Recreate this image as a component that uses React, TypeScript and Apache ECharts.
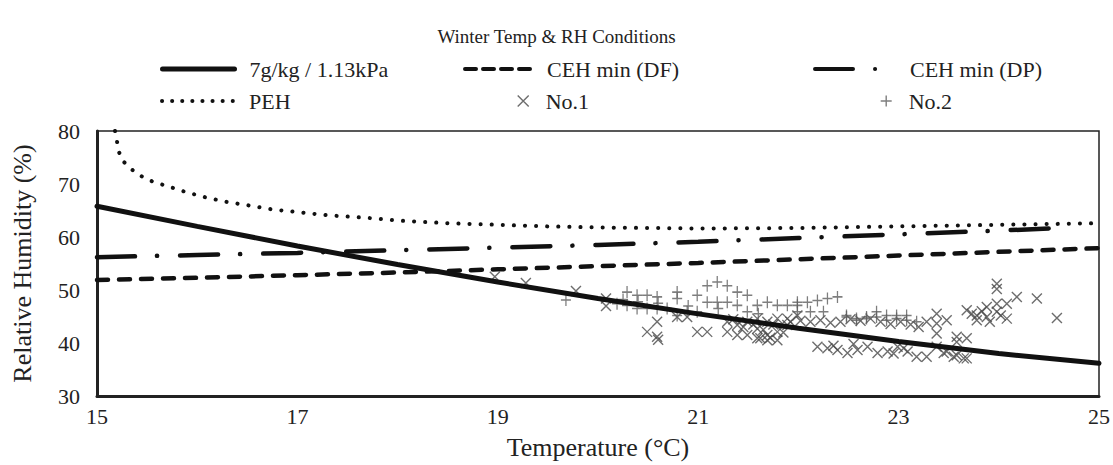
import React, { useEffect, useRef } from 'react';
import * as echarts from 'echarts';

const FONT = "'Liberation Serif', 'Times New Roman', serif";
const TEXT = '#222';
const LINE = '#111';

const chartTitle = 'Winter Temp & RH Conditions';
const xName = 'Temperature (°C)';
const yName = 'Relative Humidity (%)';

const seriesNames = ['7g/kg / 1.13kPa', 'CEH min (DF)', 'CEH min (DP)', 'PEH', 'No.1', 'No.2'];

// 7 g/kg line
const absLine: [number, number][] = [
  [15, 65.8], [16, 62.0], [17, 58.3], [18, 54.8], [19, 51.5], [20, 48.4],
  [21, 45.5], [22, 42.8], [23, 40.3], [24, 38.0], [25, 36.2],
];

// CEH min (DF)
const cehDF: [number, number][] = [
  [15, 51.9], [16, 52.3], [17, 52.8], [18, 53.3], [19, 53.9], [20, 54.5],
  [21, 55.1], [22, 55.8], [23, 56.5], [24, 57.2], [25, 57.9],
];

// CEH min (DP)
const cehDP: [number, number][] = [
  [15, 56.2], [16, 56.6], [17, 57.0], [18, 57.5], [19, 58.0], [20, 58.5],
  [21, 59.1], [22, 59.8], [23, 60.5], [24, 61.2], [24.6, 61.7],
];

// PEH
const peh: [number, number][] = [
  [15.18, 80], [15.2, 78], [15.22, 76], [15.26, 74.3], [15.35, 72.7], [15.45, 71.4],
  [15.55, 70.5], [15.7, 69.6], [15.9, 68.4], [16.1, 67.4], [16.3, 66.6], [16.5, 66.0],
  [16.75, 65.2], [17, 64.7], [17.3, 64.1], [17.7, 63.6], [18, 63.1], [18.5, 62.6],
  [19, 62.3], [19.5, 62.0], [20, 61.8], [21, 61.6], [22, 61.7], [23, 62.0],
  [24, 62.3], [25, 62.6],
];

// No.1 (x markers)
const no1: [number, number][] = [
  [18.97, 52.5], [19.28, 51.3], [19.78, 49.8], [20.08, 48.4], [20.08, 47.0],
  [20.49, 42.1], [20.59, 44.0], [20.59, 41.2], [20.6, 40.6], [20.79, 44.9], [20.89, 44.9],
  [20.99, 42.1], [21.09, 42.1],
  [21.29, 44.0], [21.29, 42.1], [21.39, 43.4], [21.39, 41.5], [21.49, 44.0], [21.49, 41.5],
  [21.59, 44.6], [21.59, 42.7], [21.59, 40.9], [21.69, 44.0], [21.69, 41.5], [21.69, 40.5],
  [21.79, 44.6], [21.79, 42.1], [21.79, 40.5], [21.89, 44.6], [21.89, 43.4], [21.99, 45.2],
  [21.35, 44.5], [21.45, 43.0], [21.55, 43.5], [21.65, 42.5], [21.75, 43.5], [21.85, 42.0],
  [21.62, 40.9], [21.72, 41.0],
  [21.92, 44.0], [22.02, 44.2], [22.12, 44.0], [22.22, 44.3], [22.32, 43.8], [22.42, 44.0],
  [22.52, 44.5], [22.62, 44.2], [22.72, 44.6], [22.82, 44.0], [22.92, 43.6], [23.02, 44.0],
  [23.12, 43.5], [23.2, 43.0],
  [22.19, 39.3], [22.29, 39.0], [22.39, 38.7], [22.49, 38.1], [22.59, 38.7], [22.69, 39.3],
  [22.79, 38.1], [22.89, 38.4], [22.99, 39.3], [23.09, 38.4], [23.18, 37.4], [23.28, 37.4],
  [23.38, 39.3], [23.45, 38.1], [23.55, 37.4], [23.65, 37.1], [22.35, 39.5], [22.55, 39.8],
  [22.95, 38.0], [23.05, 39.0],
  [23.38, 45.5], [23.38, 43.7], [23.38, 41.8], [23.48, 44.3], [23.58, 41.2], [23.58, 40.2],
  [23.68, 40.9], [23.48, 38.4], [23.58, 37.7], [23.68, 37.1], [23.28, 44.0],
  [23.68, 46.2], [23.78, 45.2], [23.88, 46.8], [23.88, 44.9], [23.98, 45.9], [24.08, 44.6],
  [23.78, 44.3], [23.91, 44.0], [23.98, 47.4], [24.08, 47.4], [23.98, 51.2], [23.98, 50.2],
  [24.18, 48.7], [24.38, 48.4], [24.58, 44.7], [23.73, 45.5], [23.83, 46.0], [24.02, 45.2],
];

// No.2 (+ markers)
const no2: [number, number][] = [
  [19.68, 48.1], [20.19, 47.4], [20.29, 49.6], [20.29, 47.1], [20.39, 49.0], [20.39, 46.5],
  [20.49, 49.0], [20.49, 46.5], [20.59, 48.7], [20.59, 46.5], [20.69, 46.5], [20.79, 49.6],
  [20.79, 48.4], [20.79, 45.2], [20.89, 45.9], [20.99, 49.0], [20.99, 45.9], [21.09, 50.8],
  [21.09, 47.7], [21.19, 51.5], [21.19, 47.7], [21.29, 50.8], [21.29, 47.7], [21.39, 49.6],
  [21.39, 47.1], [21.49, 49.0], [21.49, 45.9], [21.59, 47.1], [21.69, 47.7], [21.79, 47.1],
  [21.89, 47.1], [21.99, 47.7], [21.99, 47.1], [22.09, 47.7], [22.19, 48.0], [22.29, 48.4],
  [22.39, 48.7], [21.99, 45.9], [22.12, 45.9], [22.25, 45.9], [22.48, 45.2], [22.58, 44.6],
  [22.68, 44.9], [22.78, 45.9], [22.88, 45.2], [22.98, 44.6], [23.08, 45.2], [23.18, 44.0],
  [22.48, 44.9], [22.58, 44.3], [22.68, 44.6], [22.78, 44.9], [22.88, 44.3], [22.98, 45.2],
  [23.08, 44.3], [20.4, 47.8], [20.6, 47.5], [20.9, 47.0], [21.2, 46.5], [21.6, 45.5],
  [20.25, 48.2],
];

const X_SYM = 'path://M0,0L10,10M10,0L0,10';
const PLUS_SYM = 'path://M5,0L5,10M0,5L10,5';

const dashDF = [11, 11];
const dashDP = [38, 22, 0.1, 23];
const dotPEH = [0.1, 11];

const NO1_COLOR = '#484848';
const NO2_COLOR = '#5e5e5e';

export default function App() {
  const ref = useRef<HTMLDivElement>(null);
  useEffect(() => {
    if (!ref.current) return;
    const chart = echarts.init(ref.current, undefined, { renderer: 'svg' });
    const txt = { fontFamily: FONT, fontSize: 22, color: TEXT };
    const nameTxt = { fontFamily: FONT, fontSize: 26, color: TEXT };
    const lineLegend = (name: string, left: number, top: number, w: number, pad: number, ls: any) => ({
      left, top, itemWidth: w, itemHeight: 14, selectedMode: false, padding: 0,
      textStyle: { ...txt, lineHeight: 24, padding: [0, 0, 0, pad] },
      data: [{ name, itemStyle: { opacity: 0 }, lineStyle: ls }],
    });
    const symLegend = (name: string, left: number, top: number, pad: number, color: string) => ({
      left, top, itemWidth: 11, itemHeight: 11, selectedMode: false, padding: 0,
      textStyle: { ...txt, lineHeight: 24, padding: [0, 0, 0, pad] },
      data: [{ name, itemStyle: { color: 'transparent', borderColor: color, borderWidth: 1.4 } }],
    });
    chart.setOption({
      animation: false,
      backgroundColor: '#fff',
      title: {
        text: chartTitle, left: 'center', top: 27, padding: 0,
        textStyle: { ...txt, fontSize: 19, fontWeight: 'normal' },
      },
      legend: [
        lineLegend(seriesNames[0], 160, 57, 72, 10, { color: LINE, width: 5, type: 'solid', cap: 'round' }),
        lineLegend(seriesNames[1], 463, 57, 67, 10, { color: LINE, width: 4, type: [11, 7], cap: 'round' }),
        lineLegend(seriesNames[2], 813, 57, 67, 23, { color: LINE, width: 4, type: dashDP, cap: 'round' }),
        lineLegend(seriesNames[3], 160, 89, 72, 10, { color: LINE, width: 4, type: [0.1, 10], cap: 'round' }),
        symLegend(seriesNames[4], 517, 89, 12, NO1_COLOR),
        symLegend(seriesNames[5], 880, 89, 12, NO2_COLOR),
      ],
      grid: {
        left: 97, right: 14, top: 131, bottom: 67,
        show: true, borderColor: '#222', borderWidth: 1.5,
      },
      xAxis: {
        type: 'value', min: 15, max: 25, interval: 2,
        name: xName, nameLocation: 'middle', nameGap: 38,
        nameTextStyle: nameTxt,
        axisLine: { show: true, onZero: false, lineStyle: { color: '#222', width: 3 } },
        axisTick: { show: false },
        axisLabel: { ...txt, margin: 9 },
        splitLine: { show: false },
      },
      yAxis: {
        type: 'value', min: 30, max: 80, interval: 10,
        name: yName, nameLocation: 'middle', nameGap: 62, nameRotate: 90,
        nameTextStyle: nameTxt,
        axisLine: { show: true, onZero: false, lineStyle: { color: '#222', width: 3 } },
        axisTick: { show: false },
        axisLabel: { ...txt, margin: 17 },
        splitLine: { show: false },
      },
      series: [
        {
          name: seriesNames[1], type: 'line', data: cehDF, symbol: 'none',
          lineStyle: { color: LINE, width: 4.5, type: dashDF, cap: 'round' },
        },
        {
          name: seriesNames[2], type: 'line', data: cehDP, symbol: 'none',
          lineStyle: { color: LINE, width: 4.5, type: dashDP, cap: 'round' },
        },
        {
          name: seriesNames[3], type: 'line', data: peh, symbol: 'none',
          lineStyle: { color: LINE, width: 4, type: dotPEH, cap: 'round' },
        },
        {
          name: seriesNames[0], type: 'line', data: absLine, symbol: 'none',
          lineStyle: { color: LINE, width: 5, type: 'solid', cap: 'round' },
        },
        {
          name: seriesNames[4], type: 'scatter', data: no1, symbol: X_SYM, symbolSize: 10,
          itemStyle: { color: 'transparent', borderColor: NO1_COLOR, borderWidth: 1.4 },
        },
        {
          name: seriesNames[5], type: 'scatter', data: no2, symbol: PLUS_SYM, symbolSize: [10, 12],
          itemStyle: { color: 'transparent', borderColor: NO2_COLOR, borderWidth: 1.4 },
        },
      ],
    });
    return () => chart.dispose();
  }, []);
  return (
    <div
      ref={ref}
      style={{ position: 'fixed', left: 0, top: 0, width: 1113, height: 465, background: '#fff' }}
    />
  );
}
